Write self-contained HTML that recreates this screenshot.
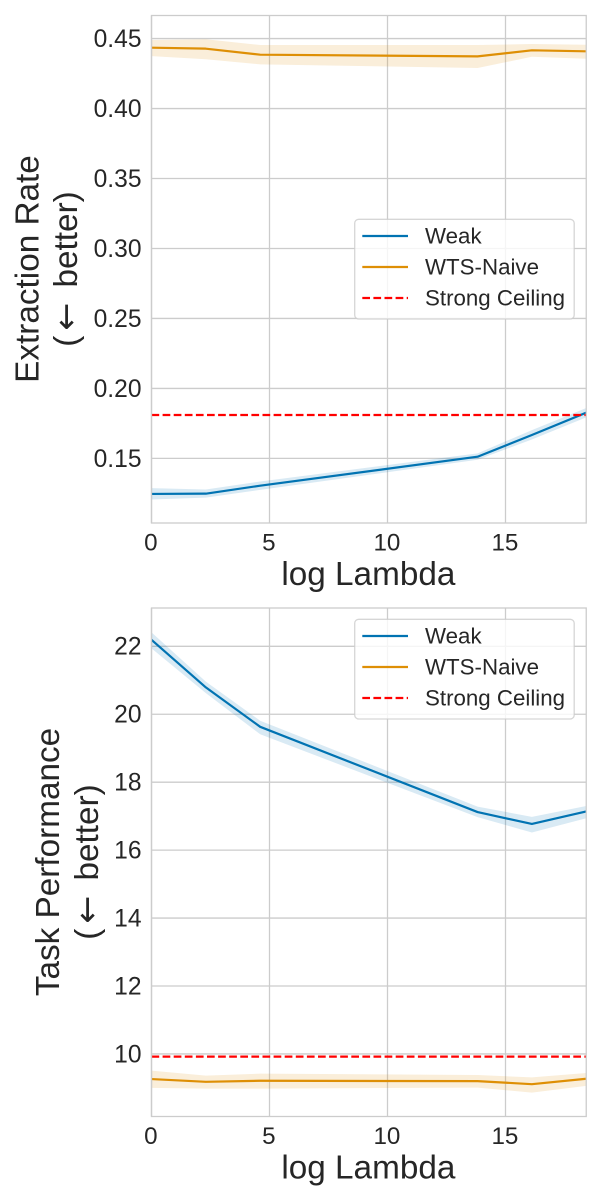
<!DOCTYPE html>
<html lang="en">
<head>
<meta charset="utf-8">
<title>Extraction Rate and Task Performance vs log Lambda</title>
<style>
html,body{margin:0;padding:0;background:#fff;width:600px;height:1200px;overflow:hidden}
svg{display:block}
text{font-family:"Liberation Sans",Arial,sans-serif;fill:#262626}
</style>
</head>
<body>
<svg id="chart" xmlns="http://www.w3.org/2000/svg" width="600" height="1200" viewBox="0 0 600 1200"></svg>
<script>
const logLambda = [0, 2.303, 4.605, 13.816, 16.118, 18.421];
const xTicks = [0, 5, 10, 15];

const extractionTicks = ["0.15", "0.20", "0.25", "0.30", "0.35", "0.40", "0.45"];
const extractionWeak = [0.1246, 0.1248, 0.1305, 0.1512, 0.1667, 0.1827];
const extractionWeakLow = [0.1206, 0.1220, 0.1275, 0.1490, 0.1635, 0.1793];
const extractionWeakHigh = [0.1288, 0.1278, 0.1335, 0.1536, 0.1702, 0.1860];
const extractionNaive = [0.4435, 0.4428, 0.4385, 0.4373, 0.4416, 0.4409];
const extractionNaiveLow = [0.4375, 0.4352, 0.4316, 0.4290, 0.4370, 0.4356];
const extractionNaiveHigh = [0.4490, 0.4495, 0.4454, 0.4454, 0.4461, 0.4456];
const extractionCeiling = 0.181;

const taskTicks = ["10", "12", "14", "16", "18", "20", "22"];
const taskWeak = [22.19, 20.79, 19.63, 17.12, 16.77, 17.14];
const taskWeakLow = [21.94, 20.62, 19.41, 16.97, 16.52, 16.94];
const taskWeakHigh = [22.41, 20.96, 19.81, 17.28, 16.98, 17.30];
const taskNaive = [9.26, 9.18, 9.21, 9.20, 9.11, 9.27];
const taskNaiveLow = [9.00, 8.98, 8.98, 9.01, 8.86, 9.06];
const taskNaiveHigh = [9.51, 9.36, 9.42, 9.38, 9.31, 9.44];
const taskCeiling = 9.92;

const legendLabels = ["Weak", "WTS-Naive", "Strong Ceiling"];

const BLUE = "#0173b2", ORANGE = "#de8f05", RED = "#ff0000", GRID = "#cccccc";
const svg = document.getElementById("chart");
const NS = "http://www.w3.org/2000/svg";

function make(parent, tag, attrs, text) {
  const el = document.createElementNS(NS, tag);
  for (const k in attrs) el.setAttribute(k, attrs[k]);
  if (text !== undefined) el.textContent = text;
  parent.appendChild(el);
  return el;
}

const xAxis = v => 151.5 + v * 23.6;
const xMax = 18.421;

function linePath(xs, ys, sx, sy) {
  return xs.map((x, i) => (i ? "L" : "M") + sx(x).toFixed(2) + " " + sy(ys[i]).toFixed(2)).join("");
}
function bandPath(xs, lo, hi, sx, sy) {
  let d = xs.map((x, i) => (i ? "L" : "M") + sx(x).toFixed(2) + " " + sy(hi[i]).toFixed(2)).join("");
  for (let i = xs.length - 1; i >= 0; i--) d += "L" + sx(xs[i]).toFixed(2) + " " + sy(lo[i]).toFixed(2);
  return d + "Z";
}

function drawPanel(cfg) {
  const sx = xAxis, sy = cfg.yAxis;
  const L = 151.5, R = xAxis(xMax), T = cfg.top, B = cfg.bottom;
  const g = make(svg, "g", {});
  
  

  const clipId = cfg.name + "-clip";
  const defs = make(g, "defs", {});
  const cp = make(defs, "clipPath", {id: clipId});
  make(cp, "rect", {x: L, y: T, width: R - L, height: B - T});

  xTicks.forEach(t => {
    const ln = make(g, "line", {x1: sx(t), x2: sx(t), y1: T, y2: B, stroke: GRID, "stroke-width": 1.3});
    
    
    const lb = make(g, "text", {x: sx(t) - 0.6, y: B + 27.7, "font-size": 24.2, "text-anchor": "middle"}, String(t));
    
    
  });
  cfg.ticks.forEach(t => {
    const v = parseFloat(t);
    const ln = make(g, "line", {x1: L, x2: R, y1: sy(v), y2: sy(v), stroke: GRID, "stroke-width": 1.3});
    
    
    const lb = make(g, "text", {x: 141.5, y: sy(v) + 8.4, "font-size": 24.6, "text-anchor": "end"}, t);
    
    
  });

  const marks = make(g, "g", {"clip-path": "url(#" + clipId + ")"});
  const series = [
    {key: "weak", color: BLUE, v: cfg.weak, lo: cfg.weakLow, hi: cfg.weakHigh},
    {key: "wts-naive", color: ORANGE, v: cfg.naive, lo: cfg.naiveLow, hi: cfg.naiveHigh}
  ];
  series.forEach(s => {
    const band = make(marks, "path", {d: bandPath(logLambda, s.lo, s.hi, sx, sy), fill: s.color, "fill-opacity": 0.15, stroke: "none"});
    
    
    const line = make(marks, "path", {d: linePath(logLambda, s.v, sx, sy), fill: "none", stroke: s.color, "stroke-width": 2.2, "stroke-linejoin": "round"});
    
    
  });
  const ceil = make(marks, "line", {x1: L, x2: R, y1: sy(cfg.ceiling), y2: sy(cfg.ceiling), stroke: RED, "stroke-width": 2.2, "stroke-dasharray": "7.7 3.4"});
  
  

  const frame = make(g, "rect", {x: L, y: T, width: R - L, height: B - T, fill: "none", stroke: GRID, "stroke-width": 1.3});
  
  

  const xt = make(g, "text", {x: (L + R) / 2 - 0.5, y: B + 62, "font-size": 33.3, "text-anchor": "middle"}, "log Lambda");
  
  

  const y1 = make(g, "text", {transform: "translate(" + cfg.label1X + " " + cfg.labelY + ") rotate(-90)", "font-size": 33.3, "text-anchor": "middle"}, cfg.title);
  
  
  const y2 = make(g, "text", {transform: "translate(" + cfg.label2X + " " + cfg.labelY + ") rotate(-90)", "font-size": 33.3, "text-anchor": "middle"});
  
  
  make(y2, "tspan", {}, "(");
  make(y2, "tspan", {"font-family": '"DejaVu Sans", sans-serif', dx: 5}, "\u2190");
  make(y2, "tspan", {dx: 6}, " better)");

  const lg = make(g, "g", {});
  
  
  const ly = cfg.legendTop;
  const box = make(lg, "rect", {x: 354.7, y: ly, width: 219.5, height: 99.7, rx: 4, ry: 4, fill: "#ffffff", "fill-opacity": 0.8, stroke: GRID, "stroke-opacity": 0.8, "stroke-width": 1.3});
  
  
  const colors = [BLUE, ORANGE, RED];
  legendLabels.forEach((label, i) => {
    const yy = ly + 16.7 + i * 31;
    const attrs = {x1: 362.3, x2: 408, y1: yy, y2: yy, stroke: colors[i], "stroke-width": 2.2};
    if (i === 2) attrs["stroke-dasharray"] = "7.7 3.4";
    const h = make(lg, "line", attrs);
    
    
    const t = make(lg, "text", {x: 425, y: yy + 7.7, "font-size": 22.3}, label);
    
    
  });
}

drawPanel({
  name: "extraction-rate", title: "Extraction Rate",
  top: 15.5, bottom: 523,
  yAxis: v => 458.4 - (v - 0.15) * 1399.4,
  ticks: extractionTicks,
  weak: extractionWeak, weakLow: extractionWeakLow, weakHigh: extractionWeakHigh,
  naive: extractionNaive, naiveLow: extractionNaiveLow, naiveHigh: extractionNaiveHigh,
  ceiling: extractionCeiling,
  label1X: 38.5, label2X: 77, labelY: 269, legendTop: 219.3
});
drawPanel({
  name: "task-performance", title: "Task Performance",
  top: 608, bottom: 1116.5,
  yAxis: v => 646.3 + (22 - v) * 33.97,
  ticks: taskTicks,
  weak: taskWeak, weakLow: taskWeakLow, weakHigh: taskWeakHigh,
  naive: taskNaive, naiveLow: taskNaiveLow, naiveHigh: taskNaiveHigh,
  ceiling: taskCeiling,
  label1X: 59, label2X: 98, labelY: 862, legendTop: 619.3
});
</script>
</body>
</html>
